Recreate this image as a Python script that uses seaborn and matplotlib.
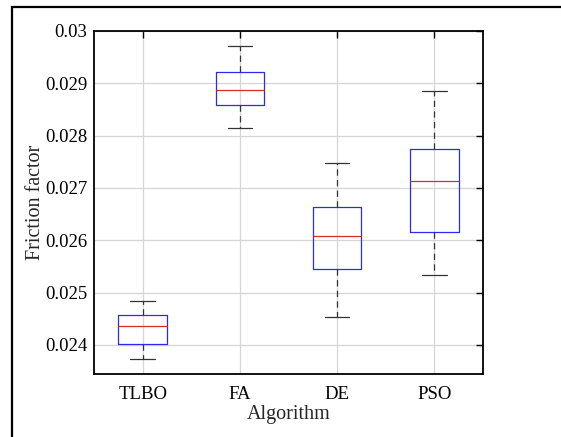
import matplotlib
matplotlib.use("Agg")
import matplotlib.pyplot as plt
from matplotlib.patches import Rectangle
import seaborn as sns
import pandas as pd

# Data: five-number summaries (min, q1, median, q3, max)
algorithms = ["TLBO", "FA", "DE", "PSO"]
tlbo = [0.023739, 0.024025, 0.024369, 0.024566, 0.024834]
fa = [0.028142, 0.028587, 0.028881, 0.029211, 0.029714]
de = [0.024541, 0.025444, 0.026087, 0.026628, 0.027487]
pso = [0.025343, 0.026151, 0.027124, 0.027754, 0.028861]
ytick_values = [0.024, 0.025, 0.026, 0.027, 0.028, 0.029, 0.030]
ytick_labels = ["0.024", "0.025", "0.026", "0.027", "0.028", "0.029", "0.03"]

rows = []
for name, vals in zip(algorithms, [tlbo, fa, de, pso]):
    for v in vals:
        rows.append({"Algorithm": name, "Friction factor": v})
df = pd.DataFrame(rows)

sns.set_style("white")
plt.rcParams["font.family"] = ["Liberation Serif", "DejaVu Serif"]

fig = plt.figure(figsize=(5.61, 4.37), dpi=100)
ax = fig.add_axes([0.1676, 0.1442, 0.6934, 0.7849])

sns.boxplot(
    data=df, x="Algorithm", y="Friction factor", order=algorithms,
    ax=ax, fill=False, color="#2b2bf0", width=0.5, whis=float("inf"),
    linewidth=0.9,
    medianprops=dict(color="#e0282a", linewidth=0.9),
    whiskerprops=dict(color="#333333", linestyle=(0, (5, 3.5)), linewidth=0.9),
    capprops=dict(color="#333333", linewidth=0.9),
)

ax.set_xlim(-0.5, 3.5)
ax.set_ylim(0.023446, 0.0300)
ax.set_yticks(ytick_values)
ax.set_yticklabels(ytick_labels)
ax.grid(True, color="#d6d6d6", linewidth=0.9)
ax.set_axisbelow(True)
for s in ax.spines.values():
    s.set_visible(True)
    s.set_color("black")
    s.set_linewidth(1.3)
ax.tick_params(axis="both", direction="in", length=5, width=1.0, colors="black",
               top=True, right=True, labelsize=13.5)
ax.tick_params(axis="x", pad=9)
ax.tick_params(axis="y", pad=5)
ax.set_xlabel("Algorithm", fontsize=14.5, labelpad=1)
ax.set_ylabel("Friction factor", fontsize=14.5, labelpad=0)

# outer frame
fig.patches.append(Rectangle((0.0214, -0.2), 1.2, 1.184, transform=fig.transFigure,
                             fill=False, edgecolor="black", linewidth=1.6))

fig.savefig("out.png", dpi=100, facecolor="white")
